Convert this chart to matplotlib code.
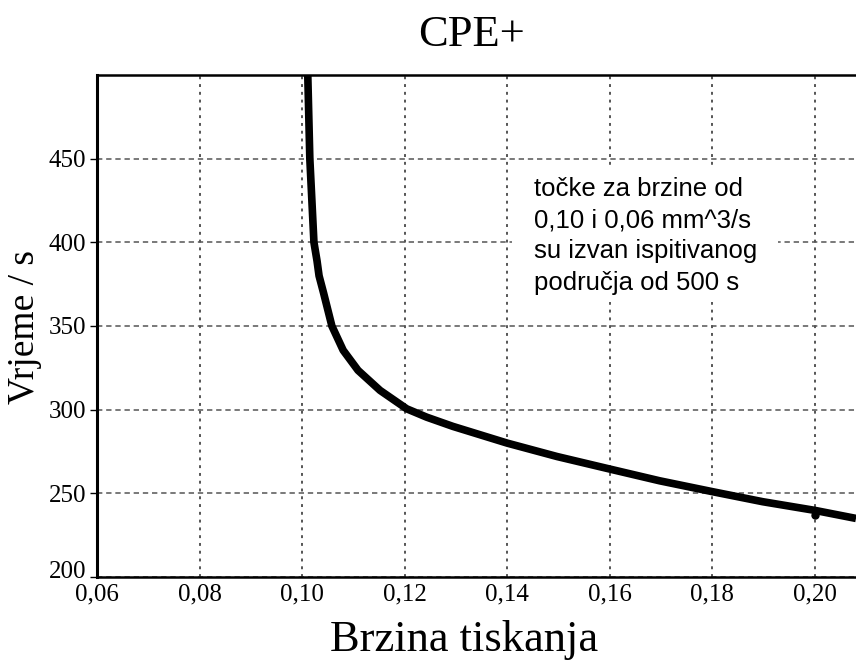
import matplotlib
matplotlib.use("Agg")
import matplotlib.pyplot as plt
from matplotlib.ticker import FuncFormatter
from matplotlib.transforms import ScaledTranslation
from matplotlib.patches import Rectangle

# curve (print speed vs time)
speed = [0.1011, 0.1013, 0.1015, 0.1019, 0.1023, 0.1029, 0.1033, 0.1042,
         0.1058, 0.1080, 0.1109, 0.1152, 0.1204, 0.1243, 0.1294, 0.1400,
         0.1497, 0.1600, 0.1697, 0.1800, 0.1898, 0.2000, 0.2080]
time_s = [500, 475, 450, 425, 400, 389, 380, 369.5,
          350, 335.5, 323.5, 311.5, 300.5, 295.5, 290, 280,
          272, 264.5, 257.5, 251, 245, 239.8, 235]

# single measured point visible just under the line
pt_speed = [0.200]
pt_time = [237]

x_ticks = [0.06, 0.08, 0.10, 0.12, 0.14, 0.16, 0.18, 0.20]
y_ticks = [200, 250, 300, 350, 400, 450]

title = "CPE+"
x_label = "Brzina tiskanja"
y_label = "Vrjeme / s"
note = "točke za brzine od\n0,10 i 0,06 mm^3/s\nsu izvan ispitivanog\npodručja od 500 s"

plt.rcParams['font.family'] = ['Liberation Serif', 'DejaVu Serif']

W, H = 856, 666
fig = plt.figure(figsize=(W / 100, H / 100), dpi=100)
ax = fig.add_axes([97 / W, 1 - 577 / H, (856 - 97) / W, (577 - 75) / H])

ax.plot(speed, time_s, color='black', lw=5.5, solid_joinstyle='round',
        solid_capstyle='butt', zorder=3)
ax.plot(pt_speed, pt_time, 'o', color='black', ms=5, zorder=3)

ax.set_xlim(0.06, 0.208)
ax.set_ylim(200, 500)
ax.set_xticks(x_ticks)
ax.set_yticks(y_ticks)
ax.xaxis.set_major_formatter(FuncFormatter(lambda v, p: f"{v:.2f}".replace('.', ',')))
ax.tick_params(axis='both', labelsize=18, direction='out', length=5, width=1)
ax.tick_params(axis='x', length=0, pad=5)
ax.tick_params(axis='y', pad=3)

# lowest y label sits a little above its tick in the reference
fig.canvas.draw()
ylabels = ax.get_yticklabels()
ylabels[0].set_transform(ylabels[0].get_transform() +
                         ScaledTranslation(0, 7 / 100, fig.dpi_scale_trans))

ax.grid(True, axis='y', color='#555555', lw=1.1, linestyle=(0, (3.5, 2.5)))
ax.grid(True, axis='x', color='#555555', lw=1.4, linestyle=(0, (1.5, 2.5)))

ax.spines['right'].set_visible(False)
ax.spines['left'].set_linewidth(2.2)
ax.spines['bottom'].set_linewidth(1.8)
ax.spines['top'].set_linewidth(1.8)

# white area behind the note hides the grid there
fig.patches.append(Rectangle((512 / W, 1 - 302 / H), (778 - 512) / W,
                             (302 - 168) / H, transform=fig.transFigure,
                             facecolor='white', edgecolor='none', zorder=2))

fig.text(472 / W, 1 - 35 / H, title, fontsize=32, ha='center', va='center')
fig.text(464 / W, 1 - 640 / H, x_label, fontsize=32, ha='center', va='center')
fig.text(25 / W, 1 - 327 / H, y_label, fontsize=27, ha='center', va='center',
         rotation=90)
fig.text(534 / W, 1 - 177 / H, note, fontsize=18.5, ha='left', va='top',
         family=['Liberation Sans', 'DejaVu Sans'], linespacing=1.38, zorder=4)

fig.savefig("out.png", dpi=100)
